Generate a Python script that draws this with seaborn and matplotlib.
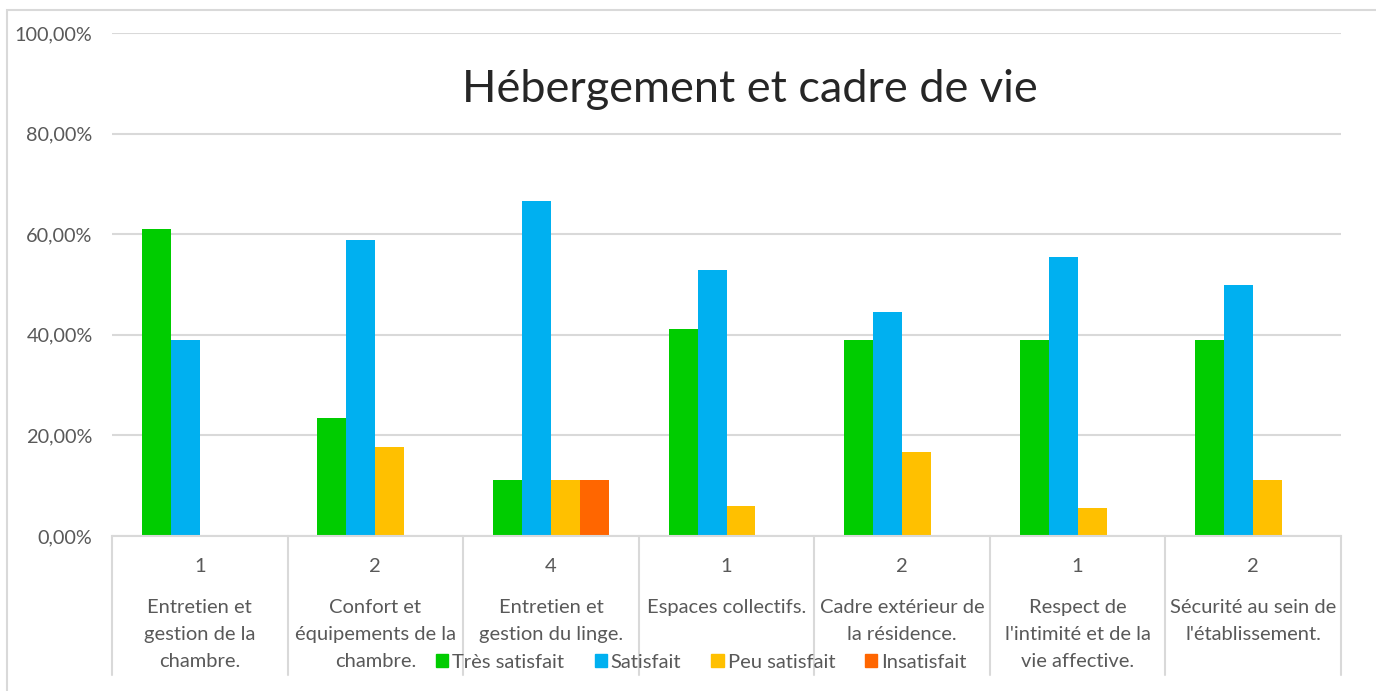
import matplotlib
matplotlib.use("Agg")
import matplotlib.pyplot as plt
import matplotlib.patches as mpatches
from matplotlib.ticker import FuncFormatter
import seaborn as sns
import pandas as pd

# ---- data ----
categories = [
    "Entretien et\ngestion de la\nchambre.",
    "Confort et\néquipements de la\nchambre.",
    "Entretien et\ngestion du linge.",
    "Espaces collectifs.",
    "Cadre extérieur de\nla résidence.",
    "Respect de\nl'intimité et de la\nvie affective.",
    "Sécurité au sein de\nl'établissement.",
]
counts = ["1", "2", "4", "1", "2", "1", "2"]
series = ["Très satisfait", "Satisfait", "Peu satisfait", "Insatisfait"]
tres_satisfait = [0.6111, 0.2353, 0.1111, 0.4118, 0.3889, 0.3889, 0.3889]
satisfait = [0.3889, 0.5882, 0.6667, 0.5294, 0.4444, 0.5556, 0.5000]
peu_satisfait = [0.0, 0.1765, 0.1111, 0.0588, 0.1667, 0.0556, 0.1111]
insatisfait = [0.0, 0.0, 0.1111, 0.0, 0.0, 0.0, 0.0]
colors = ["#00CC00", "#00B0F0", "#FFC000", "#FF6600"]
title = "Hébergement et cadre de vie"

rows = []
for vals, s in zip([tres_satisfait, satisfait, peu_satisfait, insatisfait], series):
    for c, v in zip(categories, vals):
        rows.append({"cat": c, "serie": s, "val": v})
df = pd.DataFrame(rows)

sns.set_theme(style="white")
plt.rcParams["font.family"] = ["Lato", "DejaVu Sans"]

W, H = 1376, 691
fig = plt.figure(figsize=(W / 100, H / 100), dpi=100)
left, right, top, bottom = 112, 1341, 33, 536
ax = fig.add_axes([left / W, (H - bottom) / H, (right - left) / W, (bottom - top) / H])

sns.barplot(data=df, x="cat", y="val", hue="serie", order=categories,
            hue_order=series, palette=colors, width=0.66, saturation=1,
            linewidth=0, ax=ax)

ax.set_ylim(0, 1.0)
ax.set_xlim(-0.5, len(categories) - 0.5)
ax.set_yticks([0, 0.2, 0.4, 0.6, 0.8, 1.0])
ax.yaxis.set_major_formatter(FuncFormatter(lambda v, p: f"{v*100:.2f}%".replace(".", ",")))
ax.grid(axis="y", color="#d9d9d9", linewidth=1.5)
ax.set_axisbelow(True)
for s in ["top", "right", "left"]:
    ax.spines[s].set_visible(False)
ax.spines["bottom"].set_color("#d9d9d9")
ax.spines["bottom"].set_linewidth(1.5)
ax.tick_params(axis="y", length=0, pad=14, labelsize=14.3, labelcolor="#595959")
ax.set_xlabel("")
ax.set_ylabel("")

# multi-level category axis
ax.set_xticks(range(len(categories)))
ax.set_xticklabels(counts)
ax.tick_params(axis="x", length=0, pad=16, labelsize=14.5, labelcolor="#595959")
axh = bottom - top
xt = ax.get_xaxis_transform()
for b in [i - 0.5 for i in range(len(categories) + 1)]:
    ax.plot([b, b], [0, -(675 - bottom) / axh], transform=xt, color="#d9d9d9",
            lw=1.5, clip_on=False)
for i, c in enumerate(categories):
    ax.text(i, -(599 - bottom) / axh, c, transform=xt, ha="center", va="top",
            fontsize=14.5, color="#595959", linespacing=1.72)

leg = ax.get_legend()
if leg is not None:
    leg.remove()
handles = [mpatches.Patch(color=col, label=s) for col, s in zip(colors, series)]
fig.legend(handles=handles, loc="center", bbox_to_anchor=(701.5 / W, (H - 662) / H),
           ncol=4, frameon=False, fontsize=14.5, labelcolor="#595959",
           handlelength=0.6, handleheight=0.6, handletextpad=0.2,
           columnspacing=1.5, borderaxespad=0)

fig.text(750 / W, (H - 90) / H, title, ha="center", va="center", fontsize=32.5,
         fontweight="normal", color="#262626")

# outer chart border
fig.patches.append(mpatches.Rectangle((7 / W, -0.1), 2, (H - 10) / H + 0.1,
                                      transform=fig.transFigure, fill=False,
                                      edgecolor="#d9d9d9", lw=1.5))

fig.savefig("out.png", dpi=100)
